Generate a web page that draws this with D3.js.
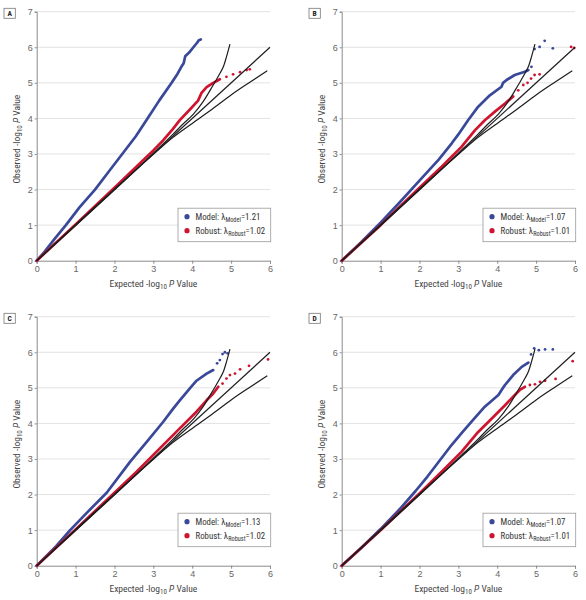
<!DOCTYPE html>
<html><head><meta charset="utf-8">
<script src="https://cdn.jsdelivr.net/npm/d3@7/dist/d3.min.js"></script>
<style>
body{margin:0;background:#fff;}
svg{display:block;}
text{font-family:"Liberation Sans Narrow","Roboto Condensed","Liberation Sans",sans-serif;}
</style></head>
<body>
<svg id="chart" width="586" height="600"></svg>
<script>
// ---- Data (expected -log10 P, observed -log10 P) ----
const panels = ["A","B","C","D"];
const lambdaModel = ["1.21","1.07","1.13","1.07"];
const lambdaRobust = ["1.02","1.01","1.02","1.01"];
const xTicks = [0,1,2,3,4,5,6];
const yTicks = [0,1,2,3,4,5,6,7];

// reference lines (null line and 95% CI bounds)
const nullLine = [[0,0],[6,6]];
const ciUpper = [[0,0],[3.0,3.02],[3.5,3.55],[3.75,3.83],[4.03,4.12],[4.28,4.47],[4.54,4.94],[4.71,5.26],[4.81,5.48],[4.88,5.73],[4.97,6.09]];
const ciLower = [[0,0],[3.0,2.99],[3.5,3.46],[4.0,3.86],[4.5,4.25],[5.0,4.66],[5.5,5.03],[5.93,5.34]];

// Panel A
const modelA = [[0,0],[0.2,0.25],[0.45,0.6],[0.75,1.0],[1.1,1.5],[1.5,2.0],[1.85,2.5],[2.2,3.0],[2.55,3.5],[2.85,4.0],[3.15,4.5],[3.47,5.0],[3.62,5.25],[3.72,5.45],[3.78,5.55],[3.82,5.75],[3.92,5.85],[4.03,6.0],[4.12,6.12],[4.17,6.2],[4.22,6.22]];
const modelTailA = [];
const robustA = [[0,0],[1,1.02],[2,2.05],[2.57,2.65],[3.0,3.1],[3.25,3.38],[3.5,3.7],[3.68,3.95],[3.94,4.25],[4.15,4.5],[4.24,4.72],[4.37,4.88],[4.54,5.0],[4.71,5.1]];
const robustTailA = [[4.88,5.17],[5.05,5.24],[5.23,5.3],[5.4,5.36],[5.48,5.38]];
// Panel B
const modelB = [[0,0],[0.5,0.52],[1,1.07],[1.5,1.65],[2,2.25],[2.5,2.85],[2.83,3.3],[3.0,3.55],[3.25,3.95],[3.51,4.33],[3.81,4.65],[4.11,4.89],[4.15,5.0],[4.24,5.08],[4.45,5.22],[4.71,5.31],[4.8,5.36]];
const modelTailB = [[4.88,5.45],[4.96,5.95],[5.09,6.01],[5.22,6.18],[5.43,5.97]];
const robustB = [[0,0],[1,1.0],[2,2.05],[2.57,2.64],[3.08,3.2],[3.43,3.67],[3.68,3.95],[3.94,4.19],[4.2,4.42],[4.41,4.62]];
const robustTailB = [[4.54,4.79],[4.67,4.94],[4.78,5.0],[4.87,5.12],[4.96,5.22],[5.09,5.24],[5.9,6.01],[5.98,5.98]];
// Panel C
const modelC = [[0,0],[0.5,0.55],[0.86,1.0],[1.3,1.5],[1.8,2.05],[2.4,2.92],[2.83,3.48],[3.25,4.04],[3.5,4.4],[3.68,4.65],[3.95,5.0],[4.11,5.2],[4.37,5.4],[4.54,5.5]];
const modelTailC = [[4.64,5.69],[4.71,5.78],[4.78,5.95],[4.84,6.0],[4.91,5.97]];
const robustC = [[0,0],[1,1.02],[2,2.05],[2.57,2.64],[3.25,3.39],[3.68,3.86],[4.11,4.33],[4.37,4.65],[4.54,4.84],[4.67,5.03]];
const robustTailC = [[4.78,5.12],[4.88,5.26],[4.97,5.36],[5.1,5.4],[5.23,5.52],[5.46,5.62],[5.95,5.8]];
// Panel D
const modelD = [[0,0],[0.5,0.5],[1,1.03],[1.5,1.6],[1.9,2.1],[2.2,2.5],[2.55,3.0],[2.83,3.4],[3.1,3.75],[3.34,4.05],[3.68,4.47],[4.03,4.8],[4.15,5.0],[4.2,5.08],[4.41,5.36],[4.63,5.59],[4.8,5.71]];
const modelTailD = [[4.87,5.94],[4.95,6.11],[5.07,6.06],[5.23,6.08],[5.43,6.08]];
const robustD = [[0,0],[1,1.0],[2,2.03],[2.57,2.64],[3.08,3.2],[3.51,3.76],[3.86,4.14],[4.2,4.51],[4.41,4.75],[4.58,4.94],[4.71,5.03]];
const robustTailD = [[4.84,5.08],[4.97,5.1],[5.1,5.17],[5.23,5.2],[5.5,5.25],[5.94,5.75]];

const modelSeries = [modelA, modelB, modelC, modelD];
const modelTails = [modelTailA, modelTailB, modelTailC, modelTailD];
const robustSeries = [robustA, robustB, robustC, robustD];
const robustTails = [robustTailA, robustTailB, robustTailC, robustTailD];

// ---- Drawing ----
const BLUE = "#3a4899", RED = "#cf1430";
const svg = d3.select("#chart");
const offsets = [[0,0],[305,0],[0,305],[305,305]];

panels.forEach((label, i) => {
  const [ox, oy] = offsets[i];
  const left = 36.7 + ox, right = 270 + ox, top = 11.7 + oy, bottom = 260.7 + oy;
  const x = d3.scaleLinear().domain([0,6]).range([left, right]);
  const y = d3.scaleLinear().domain([0,7]).range([bottom, top]);
  const g = svg.append("g");

  // gridlines
  g.selectAll("line.grid").data(yTicks.filter(t => t > 0)).join("line")
    .attr("x1", left).attr("x2", right)
    .attr("y1", d => y(d)).attr("y2", d => y(d))
    .attr("stroke", "#e2e2e2").attr("stroke-width", 1);

  // axes
  const fmt = d3.format("d");
  const xAxis = d3.axisBottom(x).tickValues(xTicks).tickFormat(fmt).tickSize(3).tickPadding(2);
  const yAxis = d3.axisLeft(y).tickValues(yTicks).tickFormat(fmt).tickSize(2).tickPadding(2);
  const gx = g.append("g").attr("transform", `translate(0,${bottom})`).call(xAxis);
  const gy = g.append("g").attr("transform", `translate(${left},0)`).call(yAxis);
  [gx, gy].forEach(a => {
    a.select(".domain").attr("stroke", "#8a8a8a");
    a.selectAll(".tick line").attr("stroke", "#8a8a8a");
    a.selectAll(".tick text").attr("fill", "#666").style("font-size", "9px")
      .style("font-family", '"Liberation Sans Narrow","Liberation Sans",sans-serif');
  });

  const line = d3.line().x(d => x(d[0])).y(d => y(d[1]));

  // model (blue) series
  g.append("path").datum(modelSeries[i]).attr("d", line)
    .attr("fill", "none").attr("stroke", BLUE).attr("stroke-width", 2.7)
    .attr("stroke-linejoin", "round").attr("stroke-linecap", "round");
  g.selectAll("circle.mt").data(modelTails[i]).join("circle")
    .attr("cx", d => x(d[0])).attr("cy", d => y(d[1])).attr("r", 1.4).attr("fill", BLUE);

  // robust (red) series
  g.append("path").datum(robustSeries[i]).attr("d", line)
    .attr("fill", "none").attr("stroke", RED).attr("stroke-width", 2.7)
    .attr("stroke-linejoin", "round").attr("stroke-linecap", "round");
  g.selectAll("circle.rt").data(robustTails[i]).join("circle")
    .attr("cx", d => x(d[0])).attr("cy", d => y(d[1])).attr("r", 1.4).attr("fill", RED);

  // reference lines
  const curve = d3.line().x(d => x(d[0])).y(d => y(d[1])).curve(d3.curveMonotoneX);
  [nullLine, ciUpper, ciLower].forEach(arr => {
    g.append("path").datum(arr).attr("d", curve)
      .attr("fill", "none").attr("stroke", "#1e1e1e").attr("stroke-width", 1.2);
  });

  // axis titles
  const xt = g.append("text").attr("x", (left + right) / 2).attr("y", bottom + 26)
    .attr("text-anchor", "middle").attr("fill", "#444").style("font-size", "9.5px");
  xt.append("tspan").text("Expected -log");
  xt.append("tspan").text("10").attr("dy", 2.5).style("font-size", "7px");
  xt.append("tspan").text(" ").attr("dy", -2.5);
  xt.append("tspan").text("P").style("font-style", "italic");
  xt.append("tspan").text(" Value");

  const yt = g.append("text")
    .attr("transform", `translate(${left - 17},${(top + bottom) / 2 + 3}) rotate(-90)`)
    .attr("text-anchor", "middle").attr("fill", "#444").style("font-size", "9.5px");
  yt.append("tspan").text("Observed -log");
  yt.append("tspan").text("10").attr("dy", 2.5).style("font-size", "7px");
  yt.append("tspan").text(" ").attr("dy", -2.5);
  yt.append("tspan").text("P").style("font-style", "italic");
  yt.append("tspan").text(" Value");

  // panel label
  g.append("rect").attr("x", ox + 4).attr("y", oy + 8.3).attr("width", 11.3).attr("height", 10)
    .attr("fill", "#fff").attr("stroke", "#777").attr("stroke-width", 0.8);
  g.append("text").attr("x", ox + 9.7).attr("y", oy + 16.3).attr("text-anchor", "middle")
    .attr("fill", "#222").style("font-size", "7.5px").style("font-weight", "bold").text(label);

  // legend
  const lx = right - 92, ly = bottom - 52.5;
  g.append("rect").attr("x", lx).attr("y", ly).attr("width", 92.7).attr("height", 33.5)
    .attr("fill", "#fff").attr("stroke", "#9a9a9a").attr("stroke-width", 0.8);
  const items = [
    {name: "Model: λ", sub: "Model", val: "=" + lambdaModel[i], color: BLUE},
    {name: "Robust: λ", sub: "Robust", val: "=" + lambdaRobust[i], color: RED}
  ];
  items.forEach((it, k) => {
    const cy = ly + 8.5 + k * 14;
    g.append("circle").attr("cx", lx + 9).attr("cy", cy).attr("r", 2.6).attr("fill", it.color);
    const t = g.append("text").attr("x", lx + 17.5).attr("y", cy + 3)
      .attr("fill", "#333").style("font-size", "8.8px");
    t.append("tspan").text(it.name);
    t.append("tspan").text(it.sub).attr("dy", 2).style("font-size", "6.3px");
    t.append("tspan").text(it.val).attr("dy", -2);
  });
});
</script>
</body></html>
